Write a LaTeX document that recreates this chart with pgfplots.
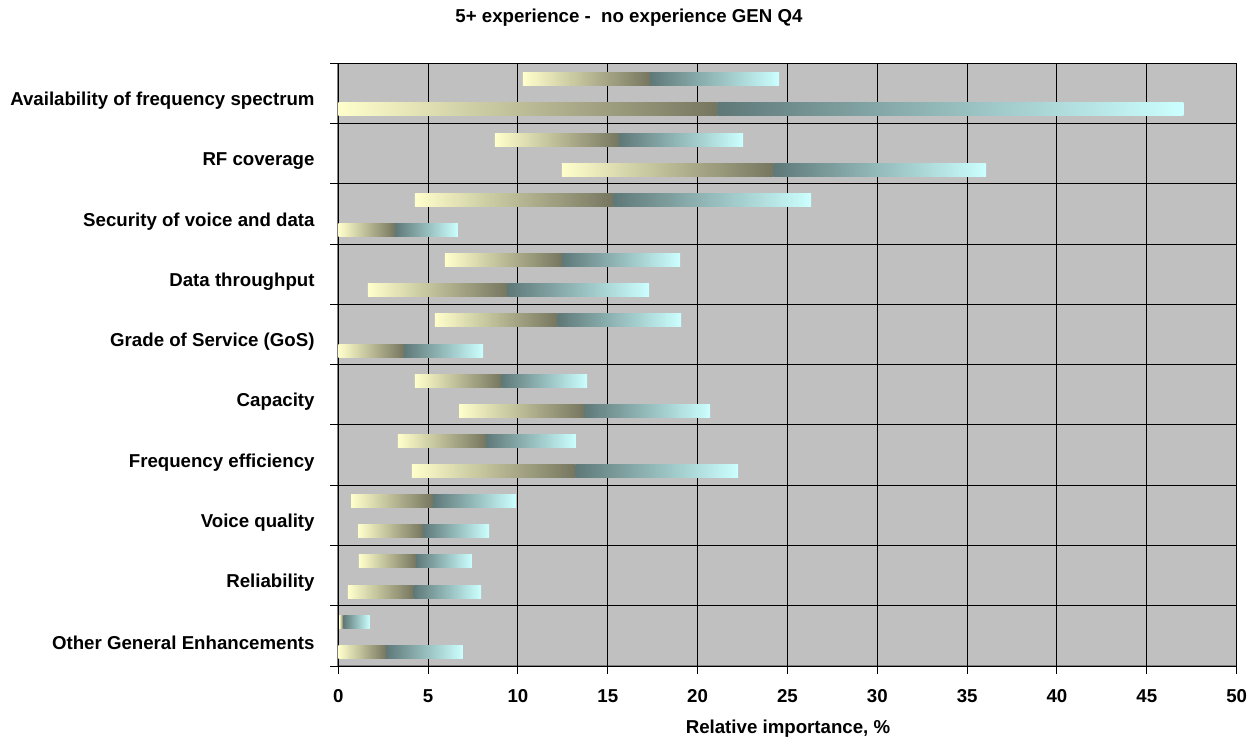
\documentclass[border=0pt]{standalone}
\usepackage{fontspec}
\setmainfont{Liberation Sans}
\usepackage{pgfplots}
\usepackage{pgfplotstable}
\pgfplotsset{compat=1.18}
\definecolor{bg}{HTML}{C0C0C0}
\definecolor{ylo}{HTML}{FFFFCC}
\definecolor{ymid}{HTML}{767660}
\definecolor{tmid}{HTML}{5F7878}
\definecolor{thi}{HTML}{CCFFFF}
\definecolor{framegray}{HTML}{808080}

% y = bar centre (category index + offset), lo / mid / hi = bar start, colour break, bar end (%)
\pgfplotstableread{
y lo mid hi
9.235 10.28 17.36 24.54
8.735 0 21.10 47.03
8.235 8.72 15.65 22.53
7.735 12.45 24.22 36.06
7.235 4.27 15.31 26.32
6.735 0 3.16 6.66
6.235 5.94 12.45 19.03
5.735 1.65 9.43 17.30
5.235 5.38 12.20 19.08
4.735 0 3.66 8.06
4.235 4.27 9.08 13.85
3.735 6.72 13.68 20.70
3.235 3.32 8.22 13.23
2.735 4.10 13.20 22.26
2.235 0.71 5.27 9.89
1.735 1.10 4.72 8.39
1.235 1.15 4.33 7.44
0.735 0.54 4.20 7.95
0.235 0.05 0.28 1.76
-0.265 0 2.66 6.94
}\bars

\begin{document}
\begin{tikzpicture}
\path[use as bounding box] (0,0) rectangle (943.5pt,-556.5pt);
\begin{axis}[
  at={(253.7pt,-499.5pt)}, anchor=south west,
  scale only axis, width=673.8pt, height=452pt,
  xmin=0, xmax=50, ymin=-0.5, ymax=9.5,
  xtick={0,5,...,50},
  ytick={-0.5,0.5,...,9.5},
  y tick label as interval,
  yticklabels={Other General Enhancements, Reliability, Voice quality, Frequency efficiency, Capacity, Grade of Service (GoS), Data throughput, Security of voice and data, RF coverage, Availability of frequency spectrum},
  xmajorgrids, ymajorgrids,
  grid style={black, line width=0.75pt},
  axis background/.style={fill=bg, draw=framegray, line width=1.2pt},
  axis lines*=left,
  axis line style={black, line width=0.75pt},
  tick align=outside, major tick length=6pt,
  tick style={black, line width=0.75pt},
  ticklabel style={font=\fontsize{14}{16}\selectfont\bfseries},
  /pgf/number format/assume math mode=true,
  xticklabel style={anchor=base, yshift=-21pt},
  yticklabel style={xshift=-8.25pt, yshift=-5.5pt},
]
\pgfplotsinvokeforeach{0,...,19}{
  \pgfplotstablegetelem{#1}{y}\of\bars \pgfmathsetmacro\ya{\pgfplotsretval-0.1078}
  \pgfplotstablegetelem{#1}{y}\of\bars \pgfmathsetmacro\yb{\pgfplotsretval+0.1078}
  \pgfplotstablegetelem{#1}{lo}\of\bars \edef\xlo{\pgfplotsretval}
  \pgfplotstablegetelem{#1}{mid}\of\bars \edef\xmid{\pgfplotsretval}
  \pgfplotstablegetelem{#1}{hi}\of\bars \edef\xhi{\pgfplotsretval}
  \addplot[draw=none, left color=ylo, right color=ymid] coordinates {(\xlo,\ya) (\xmid,\ya) (\xmid,\yb) (\xlo,\yb)} -- cycle;
  \addplot[draw=none, left color=tmid, right color=thi] coordinates {(\xmid,\ya) (\xhi,\ya) (\xhi,\yb) (\xmid,\yb)} -- cycle;
}
\end{axis}
\node[anchor=base, font=\fontsize{14}{16}\selectfont\bfseries] at (471.75pt,-17pt) {5+ experience - \ no experience GEN Q4};
\node[anchor=base, font=\fontsize{14}{16}\selectfont\bfseries] at (591pt,-549.75pt) {Relative importance, \%};
\end{tikzpicture}
\end{document}
